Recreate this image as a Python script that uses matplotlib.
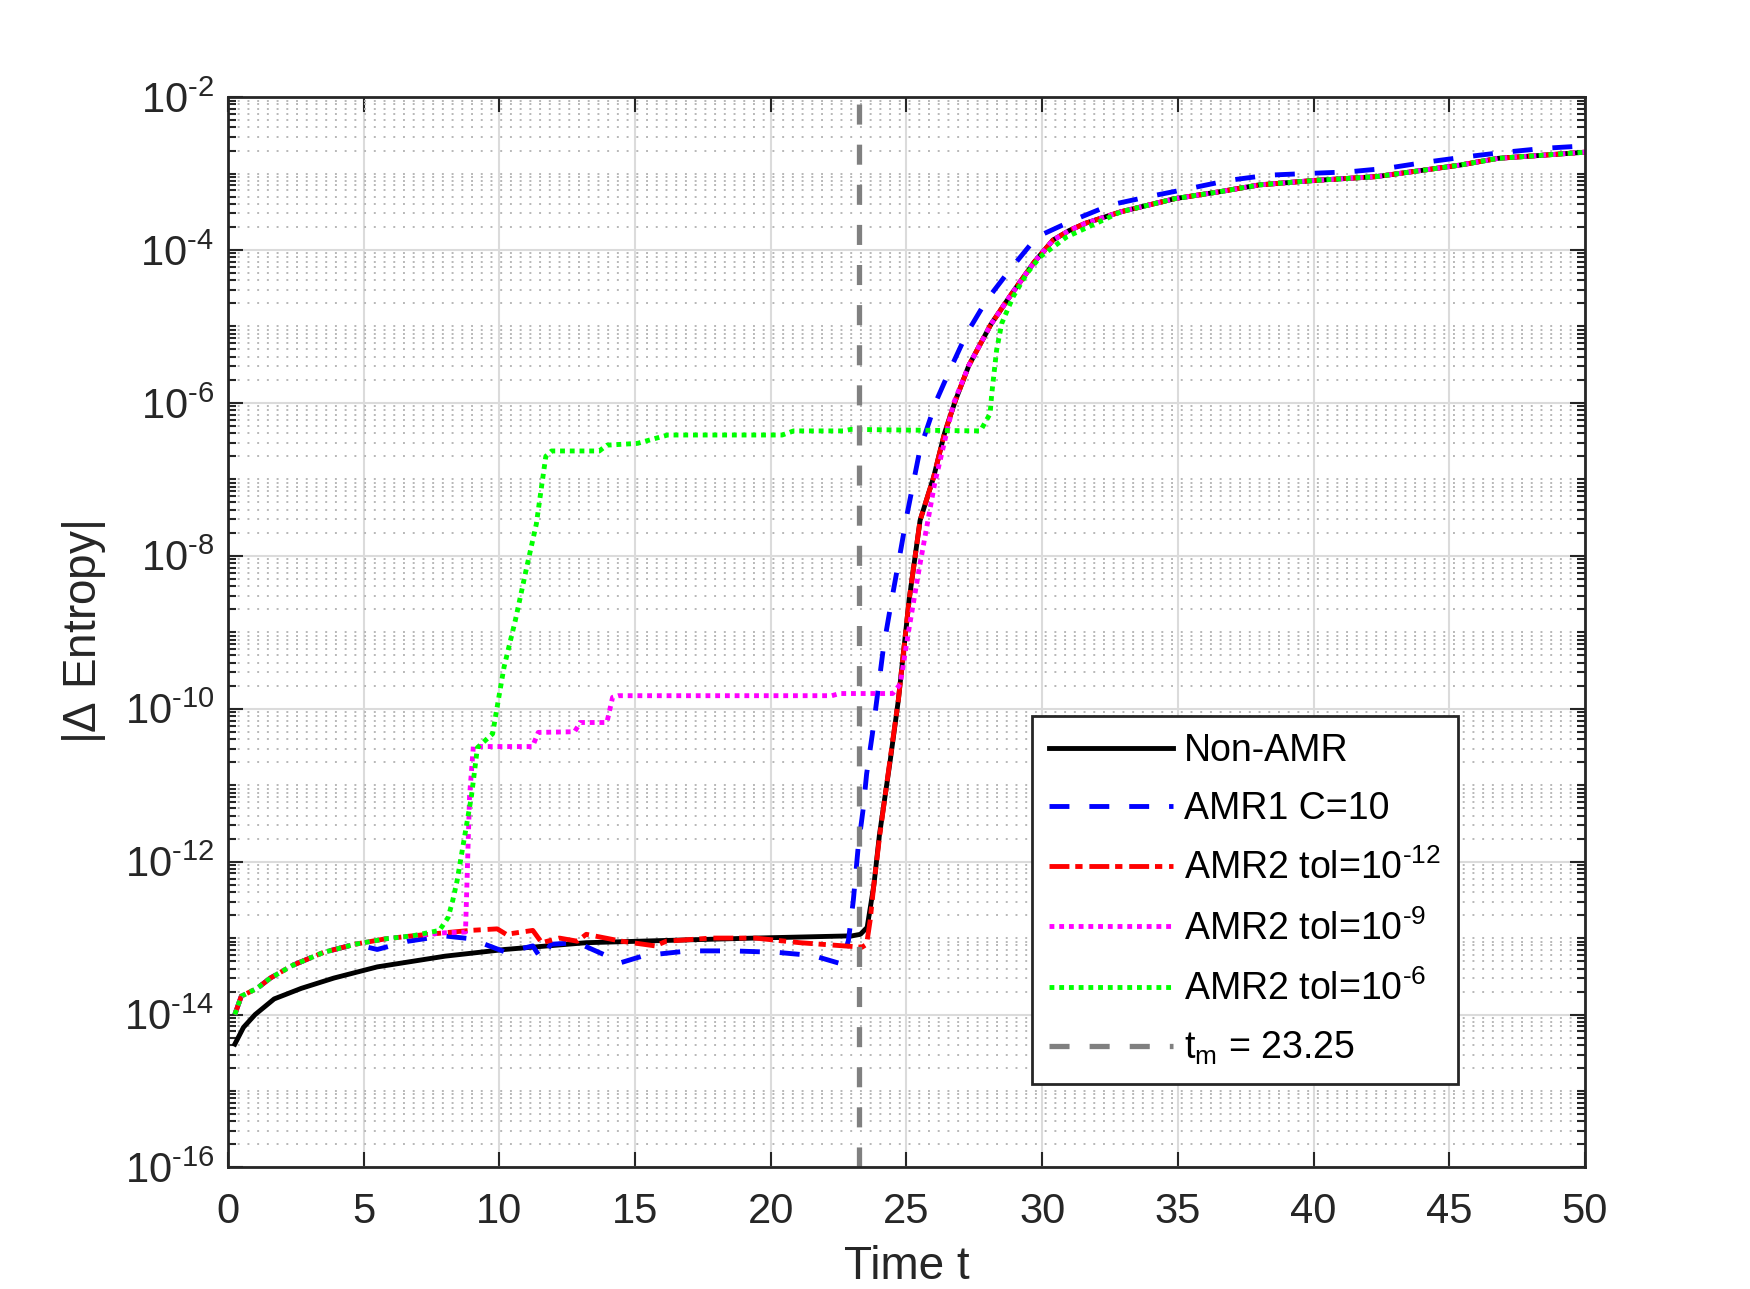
import numpy as np
import matplotlib
matplotlib.use('Agg')
import matplotlib.pyplot as plt
from matplotlib.ticker import FixedLocator, NullFormatter

plt.rcParams['font.family'] = ['Liberation Sans', 'DejaVu Sans']
plt.rcParams['mathtext.fontset'] = 'custom'
plt.rcParams['mathtext.rm'] = 'Liberation Sans'
plt.rcParams['mathtext.it'] = 'Liberation Sans'
plt.rcParams['mathtext.default'] = 'regular'

# Data (time, |delta entropy|)
t_nonamr = [0.25, 0.57, 1.0, 1.7, 2.7, 3.9, 5.5, 8.0, 10.2, 13.2, 16.1, 19.4, 23.0, 23.3,
            23.55, 23.8, 24.0, 24.4, 24.7, 25.1, 25.5, 26.0, 26.4, 26.8, 27.3, 28.1, 28.8,
            29.7, 30.4, 31.0, 31.6, 32.9, 34.9, 36.5, 38.0, 40.0, 42.3, 44.0, 45.4, 46.8,
            48.5, 50.0]
s_nonamr = [4.1e-15, 6.8e-15, 1.0e-14, 1.6e-14, 2.2e-14, 3.0e-14, 4.2e-14, 5.8e-14, 7.1e-14,
            8.7e-14, 9.3e-14, 1.0e-13, 1.07e-13, 1.12e-13, 1.38e-13, 5.0e-13, 2.2e-12,
            2.1e-11, 1.3e-10, 2.7e-09, 2.9e-08, 1.07e-07, 4.0e-07, 1.07e-06, 3.1e-06, 1.05e-05,
            2.45e-05, 6.9e-05, 1.35e-04, 1.8e-04, 2.24e-04, 3.16e-04, 4.7e-04, 5.75e-04,
            7.1e-04, 8.1e-04, 9.1e-04, 1.10e-03, 1.29e-03, 1.58e-03, 1.74e-03, 1.9e-03]

t_amr1 = [0.25, 0.49, 1.07, 1.56, 2.38, 3.52, 4.67, 5.5, 6.64, 7.95, 8.93, 10.25, 11.23, 11.56,
          11.89, 12.87, 14.5, 15.33, 16.97, 18.6, 20.25, 21.56, 22.6, 22.86, 23.04, 23.22,
          23.41, 23.53, 23.78, 24.15, 24.45, 24.8, 25.0, 25.5, 26.1, 26.6, 27.22, 27.95,
          28.81, 29.8, 31.14, 32.53, 33.94, 35.36, 36.84, 38.3, 39.73, 41.27, 42.69, 44.16,
          45.65, 47.05, 48.53, 50.0]
s_amr1 = [1.0e-14, 1.74e-14, 2.2e-14, 3.0e-14, 4.4e-14, 6.5e-14, 8.3e-14, 7.1e-14, 9.1e-14,
          1.07e-13, 9.8e-14, 6.5e-14, 7.9e-14, 5.2e-14, 8.3e-14, 8.7e-14, 4.8e-14, 5.9e-14,
          6.8e-14, 6.8e-14, 6.5e-14, 5.9e-14, 4.6e-14, 9.3e-14, 3.1e-13, 1.55e-12, 5.1e-12,
          1.4e-11, 5.8e-11, 6.3e-10, 2.6e-09, 1.26e-08, 3.2e-08, 2.5e-07, 1.07e-06,
          2.7e-06, 8.1e-06, 2.2e-05, 5.5e-05, 1.48e-04, 2.45e-04, 3.9e-04, 5.0e-04, 6.3e-04,
          8.1e-04, 9.5e-04, 1.0e-03, 1.05e-03, 1.17e-03, 1.41e-03, 1.66e-03, 1.9e-03,
          2.14e-03, 2.3e-03]

t_amr2_12 = [0.25, 0.49, 1.07, 1.56, 2.38, 3.52, 4.67, 5.82, 6.8, 7.95, 8.93, 9.92, 10.25,
             11.23, 11.56, 12.21, 12.87, 13.2, 14.5, 15.74, 16.15, 17.8, 19.43, 21.07, 22.7,
             23.36, 23.53, 23.66, 23.8, 24.02, 24.39, 24.7, 25.1, 25.5, 26.0, 26.4, 26.8, 27.3,
             28.1, 28.8, 29.7, 30.4, 31.0, 31.6, 32.9, 34.9, 36.5, 38.0, 40.0, 42.3, 44.0,
             45.4, 46.8, 48.5, 50.0]
s_amr2_12 = [1.0e-14, 1.74e-14, 2.2e-14, 3.0e-14, 4.4e-14, 6.5e-14, 8.3e-14, 9.8e-14, 1.07e-13,
             1.17e-13, 1.26e-13, 1.32e-13, 1.12e-13, 1.26e-13, 8.7e-14, 1.0e-13, 9.1e-14,
             1.12e-13, 9.1e-14, 7.9e-14, 9.1e-14, 1.0e-13, 1.0e-13, 8.7e-14, 7.9e-14, 7.6e-14,
             8.3e-14, 1.7e-13, 5.1e-13, 2.3e-12, 2.1e-11, 1.3e-10, 2.7e-09, 2.9e-08,
             1.07e-07, 4.0e-07, 1.07e-06, 3.1e-06, 1.05e-05, 2.45e-05, 6.9e-05, 1.35e-04,
             1.8e-04, 2.24e-04, 3.16e-04, 4.7e-04, 5.75e-04, 7.1e-04, 8.1e-04, 9.1e-04,
             1.10e-03, 1.29e-03, 1.58e-03, 1.74e-03, 1.9e-03]

t_amr2_9 = [0.25, 0.49, 1.07, 1.56, 2.38, 3.52, 4.67, 5.82, 6.8, 7.95, 8.75, 8.9, 9.04, 11.22,
            11.43, 12.77, 12.98, 13.96, 14.17, 14.38, 22.25, 22.53, 24.49, 24.77, 25.06, 25.48,
            26.04, 26.74, 27.3, 28.1, 28.8, 29.7, 30.4, 31.0, 31.6, 32.9, 34.9, 36.5, 38.0,
            40.0, 42.3, 44.0, 45.4, 46.8, 48.5, 50.0]
s_amr2_9 = [1.0e-14, 1.74e-14, 2.2e-14, 3.0e-14, 4.4e-14, 6.5e-14, 8.3e-14, 9.8e-14, 1.07e-13,
            1.17e-13, 1.2e-13, 7.2e-12, 3.2e-11, 3.2e-11, 4.9e-11, 5.0e-11, 6.6e-11, 6.6e-11,
            1.41e-10, 1.48e-10, 1.48e-10, 1.58e-10, 1.58e-10, 2.1e-10, 9.5e-10, 7.2e-09,
            8.9e-08, 1.0e-06, 3.1e-06, 1.05e-05, 2.45e-05, 6.9e-05, 1.35e-04, 1.8e-04,
            2.24e-04, 3.16e-04, 4.7e-04, 5.75e-04, 7.1e-04, 8.1e-04, 9.1e-04, 1.10e-03,
            1.29e-03, 1.58e-03, 1.74e-03, 1.9e-03]

t_amr2_6 = [0.25, 0.49, 1.07, 1.56, 2.38, 3.52, 4.67, 5.82, 6.8, 7.79, 8.11, 8.28, 8.44, 8.97,
            9.19, 9.75, 9.89, 10.17, 10.59, 11.01, 11.36, 11.57, 11.71, 11.92, 13.68, 13.96,
            15.08, 16.2, 20.42, 20.84, 22.67, 22.95, 27.72, 28.08, 28.14, 28.32, 28.51, 28.93,
            29.43, 29.92, 30.9, 32.24, 32.9, 34.9, 36.5, 38.0, 40.0, 42.3, 44.0, 45.4, 46.8,
            48.5, 50.0]
s_amr2_6 = [1.0e-14, 1.74e-14, 2.2e-14, 3.0e-14, 4.4e-14, 6.5e-14, 8.3e-14, 9.8e-14, 1.07e-13,
            1.26e-13, 1.86e-13, 3.1e-13, 5.6e-13, 7.2e-12, 3.1e-11, 4.7e-11, 9.3e-11, 3.5e-10,
            1.45e-09, 7.2e-09, 2.6e-08, 8.9e-08, 2.0e-07, 2.35e-07, 2.35e-07, 2.8e-07,
            2.95e-07, 3.8e-07, 3.8e-07, 4.3e-07, 4.3e-07, 4.5e-07, 4.3e-07, 7.2e-07, 1.3e-06,
            4.9e-06, 1.1e-05, 2.45e-05, 4.9e-05, 8.1e-05, 1.48e-04, 2.45e-04, 3.16e-04,
            4.7e-04, 5.75e-04, 7.1e-04, 8.1e-04, 9.1e-04, 1.10e-03, 1.29e-03, 1.58e-03,
            1.74e-03, 1.9e-03]

t_m = 23.25

labels = ['Non-AMR', 'AMR1 C=10', 'AMR2 tol=10$^{\\text{-}12}$', 'AMR2 tol=10$^{\\text{-}9}$',
          'AMR2 tol=10$^{\\text{-}6}$', 't$_m$ = 23.25']

dark = (0.15, 0.15, 0.15)

fig = plt.figure(figsize=(17.5, 12.89), dpi=100)
ax = fig.add_axes([0.1303, 0.0943, 0.7754, 0.8304])

lw = 3.5
ax.plot(t_nonamr, s_nonamr, color='k', lw=lw, ls='-', label=labels[0])
ax.plot(t_amr1, s_amr1, color='b', lw=lw, ls=(0, (4.1, 4.1)), label=labels[1])
ax.plot(t_amr2_12, s_amr2_12, color='r', lw=lw, ls=(0, (4.1, 1.2, 1.5, 1.4)), label=labels[2])
ax.plot(t_amr2_9, s_amr2_9, color='#ff00ff', lw=lw, ls=(0, (1.0, 1.0)), label=labels[3])
ax.plot(t_amr2_6, s_amr2_6, color='#00ff00', lw=lw, ls=(0, (1.0, 1.0)), label=labels[4])
ax.axvline(t_m, color=(0.5, 0.5, 0.5), lw=3.8, ls=(0, (3.8, 3.8)), label=labels[5])

ax.set_yscale('log')
ax.set_xlim(0, 50)
ax.set_ylim(1e-16, 1e-2)

major_exp = np.arange(-16, -1, 2)
ax.set_yticks([10.0 ** e for e in major_exp])
ax.set_yticklabels(['$10^{\\text{-}%d}$' % abs(e) for e in major_exp])
minor = []
for e in range(-16, -2):
    for k in range(1, 10):
        if k == 1 and e % 2 == 0:
            continue
        minor.append(k * 10.0 ** e)
ax.yaxis.set_minor_locator(FixedLocator(minor))
ax.yaxis.set_minor_formatter(NullFormatter())
ax.set_xticks(np.arange(0, 51, 5))

ax.grid(True, which='major', color=(0.86, 0.86, 0.86), lw=1.5, ls='-')
ax.grid(True, which='minor', axis='y', color=(0.72, 0.72, 0.72), lw=1.4, ls=(0, (1, 4)))
ax.set_axisbelow(True)

ax.tick_params(which='major', direction='in', length=11, width=1.5, colors=dark,
               labelsize=30, top=True, right=True)
ax.tick_params(axis='x', which='major', pad=18)
ax.tick_params(axis='y', which='major', pad=10)
ax.tick_params(which='minor', direction='in', length=6, width=1.5, colors=dark,
               top=False, right=True)
for sp in ax.spines.values():
    sp.set_color(dark)
    sp.set_linewidth(2)

ax.set_xlabel('Time t', fontsize=33, color=dark, labelpad=9)
ax.set_ylabel('|$\\Delta$ Entropy|', fontsize=33, color=dark, labelpad=12)

leg = ax.legend(loc='upper left', bbox_to_anchor=(0.5925, 0.4218), borderaxespad=0,
                fontsize=27, handlelength=3.3, handletextpad=0.3, labelspacing=0.6,
                borderpad=0.45, fancybox=False, framealpha=1, edgecolor=dark)
leg.get_frame().set_linewidth(2)
for txt in leg.get_texts():
    txt.set_color('k')

fig.savefig('out.png', dpi=100)
